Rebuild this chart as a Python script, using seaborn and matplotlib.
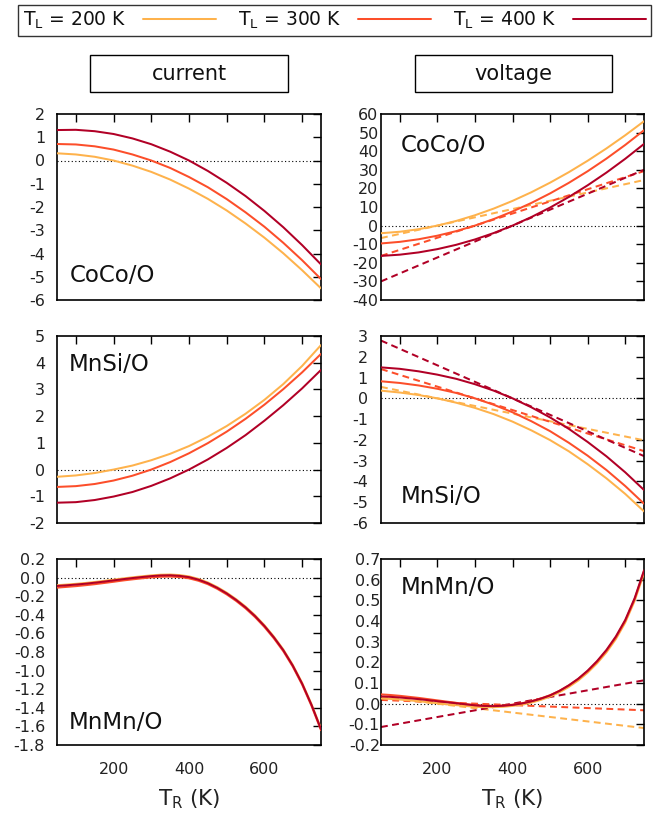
import matplotlib
matplotlib.use("Agg")
import numpy as np
import pandas as pd
import seaborn as sns
import matplotlib.pyplot as plt
from matplotlib.lines import Line2D
from matplotlib.patches import Rectangle
from matplotlib.ticker import MultipleLocator, FuncFormatter

# ---------------- data ----------------
TR = [50, 100, 150, 200, 250, 300, 350, 400, 450, 500, 550, 600, 650, 700, 750]
TR_fine = [50, 75, 100, 125, 150, 175, 200, 225, 250, 275, 300, 325, 350, 375, 400,
           425, 450, 475, 500, 525, 550, 575, 600, 625, 650, 675, 700, 725, 750]
TR_lin = [50, 750]
TL_levels = ["200", "300", "400"]
legend_labels = [r"T$_{L}$ = 200 K", r"T$_{L}$ = 300 K", r"T$_{L}$ = 400 K"]
colors = ["#feb24c", "#fc4e2a", "#b10026"]

current_CoCo_200 = [0.31, 0.26, 0.16, 0.0, -0.22, -0.49, -0.82, -1.21, -1.65, -2.15, -2.71, -3.32, -3.99, -4.72, -5.50]
current_CoCo_300 = [0.71, 0.69, 0.61, 0.47, 0.26, 0.0, -0.32, -0.71, -1.15, -1.66, -2.23, -2.85, -3.54, -4.29, -5.10]
current_CoCo_400 = [1.31, 1.32, 1.26, 1.14, 0.95, 0.70, 0.38, 0.0, -0.45, -0.96, -1.53, -2.17, -2.87, -3.64, -4.47]

current_MnSi_200 = [-0.27, -0.22, -0.13, 0.0, 0.15, 0.35, 0.59, 0.88, 1.23, 1.63, 2.09, 2.61, 3.20, 3.88, 4.66]
current_MnSi_300 = [-0.65, -0.62, -0.54, -0.41, -0.23, 0.0, 0.28, 0.61, 0.99, 1.42, 1.90, 2.43, 3.01, 3.64, 4.33]
current_MnSi_400 = [-1.24, -1.22, -1.14, -1.01, -0.84, -0.61, -0.33, 0.0, 0.38, 0.81, 1.29, 1.83, 2.41, 3.04, 3.73]

# MnMn/O read on the finer 25 K grid
current_MnMn_200 = [-0.082, -0.075, -0.067, -0.058, -0.047, -0.035, -0.022, -0.009, 0.003, 0.014, 0.024,
                    0.031, 0.033, 0.027, 0.013, -0.014, -0.052, -0.102, -0.162, -0.232, -0.312, -0.405,
                    -0.512, -0.634, -0.772, -0.937, -1.132, -1.362, -1.622]
current_MnMn_300 = [-0.108, -0.100, -0.092, -0.082, -0.071, -0.058, -0.045, -0.031, -0.019, -0.008, 0.002,
                    0.009, 0.011, 0.006, -0.008, -0.034, -0.071, -0.121, -0.181, -0.251, -0.331, -0.424,
                    -0.531, -0.653, -0.791, -0.956, -1.151, -1.381, -1.641]
current_MnMn_400 = [-0.090, -0.083, -0.075, -0.066, -0.055, -0.043, -0.030, -0.017, -0.005, 0.006, 0.016,
                    0.023, 0.025, 0.019, 0.005, -0.022, -0.060, -0.110, -0.170, -0.240, -0.320, -0.413,
                    -0.520, -0.642, -0.780, -0.945, -1.140, -1.370, -1.630]

voltage_CoCo_200 = [-4.1, -3.31, -1.94, 0.0, 2.50, 5.56, 9.15, 13.28, 17.92, 23.08, 28.73, 34.87, 41.48, 48.56, 56.1]
voltage_CoCo_300 = [-9.6, -8.74, -7.35, -5.43, -2.98, 0.0, 3.52, 7.58, 12.17, 17.31, 23.0, 29.23, 36.02, 43.36, 51.25]
voltage_CoCo_400 = [-16.3, -15.63, -14.42, -12.65, -10.33, -7.45, -4.0, 0.0, 4.57, 9.70, 15.40, 21.67, 28.50, 35.91, 43.9]
voltage_CoCo_lin_200 = [-6.7, 24.5]
voltage_CoCo_lin_300 = [-16.3, 29.3]
voltage_CoCo_lin_400 = [-30.0, 30.0]

voltage_MnSi_200 = [0.37, 0.28, 0.16, 0.0, -0.21, -0.46, -0.76, -1.12, -1.54, -2.01, -2.55, -3.17, -3.85, -4.60, -5.44]
voltage_MnSi_300 = [0.82, 0.74, 0.62, 0.46, 0.26, 0.0, -0.31, -0.67, -1.10, -1.58, -2.14, -2.76, -3.45, -4.22, -5.07]
voltage_MnSi_400 = [1.49, 1.42, 1.30, 1.14, 0.94, 0.68, 0.37, 0.0, -0.43, -0.92, -1.47, -2.10, -2.79, -3.56, -4.41]
voltage_MnSi_lin_200 = [0.55, -2.02]
voltage_MnSi_lin_300 = [1.41, -2.54]
voltage_MnSi_lin_400 = [2.78, -2.78]

voltage_MnMn_200 = [0.025, 0.023, 0.020, 0.016, 0.012, 0.007, 0.002, -0.003, -0.007, -0.011, -0.015,
                    -0.017, -0.017, -0.015, -0.011, -0.005, 0.005, 0.018, 0.034, 0.055, 0.081, 0.112,
                    0.150, 0.195, 0.248, 0.312, 0.392, 0.497, 0.632]
voltage_MnMn_300 = [0.045, 0.042, 0.038, 0.033, 0.028, 0.022, 0.016, 0.010, 0.004, -0.002, -0.007,
                    -0.010, -0.011, -0.009, -0.005, 0.002, 0.012, 0.025, 0.041, 0.062, 0.088, 0.119,
                    0.157, 0.202, 0.256, 0.320, 0.400, 0.505, 0.640]
voltage_MnMn_400 = [0.035, 0.033, 0.030, 0.026, 0.022, 0.017, 0.012, 0.007, 0.002, -0.003, -0.008,
                    -0.011, -0.012, -0.010, -0.006, 0.001, 0.011, 0.024, 0.040, 0.062, 0.089, 0.121,
                    0.160, 0.206, 0.260, 0.325, 0.405, 0.510, 0.645]
voltage_MnMn_lin_200 = [0.032, -0.118]
voltage_MnMn_lin_300 = [0.018, -0.032]
voltage_MnMn_lin_400 = [-0.113, 0.113]

column_titles = ["current", "voltage"]
xlabel = r"T$_{R}$ (K)"

# ---------------- style ----------------
sns.set_theme(style="white")
plt.rcParams["font.family"] = ["DejaVu Sans"]
plt.rcParams["axes.unicode_minus"] = False
plt.rcParams["mathtext.default"] = "regular"

W, H = 667, 817
fig = plt.figure(figsize=(W / 100, H / 100), dpi=100)


def fpos(x0, y0, x1, y1):
    return [x0 / W, 1 - y1 / H, (x1 - x0) / W, (y1 - y0) / H]


rows_px = [(114, 300), (336, 523), (559, 745)]
cols_px = [(57, 321), (381, 644)]

panels = [
    dict(r=0, c=0, x=TR, curves=[current_CoCo_200, current_CoCo_300, current_CoCo_400], lin=None,
         ylim=(-6, 2), step=1, fmt="{:.0f}", label="CoCo/O", lpos=(0.05, 0.13), ypad=8.6),
    dict(r=0, c=1, x=TR, curves=[voltage_CoCo_200, voltage_CoCo_300, voltage_CoCo_400],
         lin=[voltage_CoCo_lin_200, voltage_CoCo_lin_300, voltage_CoCo_lin_400],
         ylim=(-40, 60), step=10, fmt="{:.0f}", label="CoCo/O", lpos=(0.075, 0.833), ypad=1.8),
    dict(r=1, c=0, x=TR, curves=[current_MnSi_200, current_MnSi_300, current_MnSi_400], lin=None,
         ylim=(-2, 5), step=1, fmt="{:.0f}", label="MnSi/O", lpos=(0.043, 0.845), ypad=8.6),
    dict(r=1, c=1, x=TR, curves=[voltage_MnSi_200, voltage_MnSi_300, voltage_MnSi_400],
         lin=[voltage_MnSi_lin_200, voltage_MnSi_lin_300, voltage_MnSi_lin_400],
         ylim=(-6, 3), step=1, fmt="{:.0f}", label="MnSi/O", lpos=(0.075, 0.141), ypad=9.4),
    dict(r=2, c=0, x=TR_fine, curves=[current_MnMn_200, current_MnMn_300, current_MnMn_400], lin=None,
         ylim=(-1.8, 0.2), step=0.2, fmt="{:.1f}", label="MnMn/O", lpos=(0.043, 0.121), ypad=8.6),
    dict(r=2, c=1, x=TR_fine, curves=[voltage_MnMn_200, voltage_MnMn_300, voltage_MnMn_400],
         lin=[voltage_MnMn_lin_200, voltage_MnMn_lin_300, voltage_MnMn_lin_400],
         ylim=(-0.2, 0.7), step=0.1, fmt="{:.1f}", label="MnMn/O", lpos=(0.075, 0.846), ypad=0.8),
]

palette = dict(zip(TL_levels, colors))
LW = 1.45

for p in panels:
    (y0, y1), (x0, x1) = rows_px[p["r"]], cols_px[p["c"]]
    ax = fig.add_axes(fpos(x0, y0, x1, y1))
    ax.axhline(0, color="black", lw=0.8, ls=(0, (1, 2.2)), zorder=1)

    xs = p["x"]
    n = len(xs)
    df = pd.DataFrame({
        "T_R": list(xs) * 3,
        "val": p["curves"][0] + p["curves"][1] + p["curves"][2],
        "T_L": [TL_levels[0]] * n + [TL_levels[1]] * n + [TL_levels[2]] * n,
    })
    if p["lin"] is not None:
        dfl = pd.DataFrame({
            "T_R": TR_lin * 3,
            "val": p["lin"][0] + p["lin"][1] + p["lin"][2],
            "T_L": [TL_levels[0]] * 2 + [TL_levels[1]] * 2 + [TL_levels[2]] * 2,
        })
        n0 = len(ax.lines)
        sns.lineplot(data=dfl, x="T_R", y="val", hue="T_L", palette=palette, ax=ax,
                     legend=False, linewidth=LW, estimator=None, sort=False, zorder=2)
        for ln in ax.lines[n0:]:
            ln.set_dashes((3.4, 2.2))
    sns.lineplot(data=df, x="T_R", y="val", hue="T_L", palette=palette, ax=ax,
                 legend=False, linewidth=LW, estimator=None, sort=False, zorder=3)

    ax.set_xlim(50, 750)
    ax.set_ylim(*p["ylim"])
    ax.xaxis.set_major_locator(MultipleLocator(100))
    ax.xaxis.set_major_formatter(FuncFormatter(
        lambda v, pos: f"{int(round(v))}" if int(round(v)) in (200, 400, 600) else ""))
    ax.yaxis.set_major_locator(MultipleLocator(p["step"]))
    fmt = p["fmt"]
    ax.yaxis.set_major_formatter(FuncFormatter(
        lambda v, pos, fmt=fmt: fmt.format(0.0) if abs(v) < 1e-9 else fmt.format(v)))
    ax.tick_params(axis="both", direction="in", length=6, width=1.0, top=True, right=True,
                   colors="black", labelsize=11.5, labelcolor="#222222")
    ax.tick_params(axis="x", pad=12.5, labelbottom=(p["r"] == 2))
    ax.tick_params(axis="y", pad=p["ypad"])
    for s in ax.spines.values():
        s.set_color("black")
        s.set_linewidth(1.2)
    ax.set_ylabel("")
    if p["r"] == 2:
        ax.set_xlabel(xlabel, fontsize=15.5, color="#222222", labelpad=7)
    else:
        ax.set_xlabel("")
    ax.text(p["lpos"][0], p["lpos"][1], p["label"], transform=ax.transAxes,
            ha="left", va="center", fontsize=16.5, color="#111111", zorder=5)

# column header boxes
for (bx0, bx1), title in zip([(90, 288), (415, 612)], column_titles):
    fig.add_artist(Rectangle((bx0 / W, 1 - 92 / H), (bx1 - bx0) / W, 37 / H,
                             transform=fig.transFigure, fill=False, lw=1.0, ec="black"))
    fig.text((bx0 + bx1) / 2 / W, 1 - 74 / H, title, ha="center", va="center",
             fontsize=15, color="#111111")

# legend
handles = [Line2D([], [], color=c, lw=LW) for c in colors]
leg = fig.legend(handles, legend_labels, loc="center", bbox_to_anchor=(334.5 / W, 1 - 20.5 / H),
                 ncol=3, markerfirst=False, frameon=True, fancybox=False, edgecolor="black",
                 handlelength=3.9, columnspacing=1.15, handletextpad=0.9, fontsize=13.5,
                 borderpad=0.25, borderaxespad=0)
leg.get_frame().set_linewidth(1.0)
for t in leg.get_texts():
    t.set_color("#111111")

fig.savefig("out.png", dpi=100)
